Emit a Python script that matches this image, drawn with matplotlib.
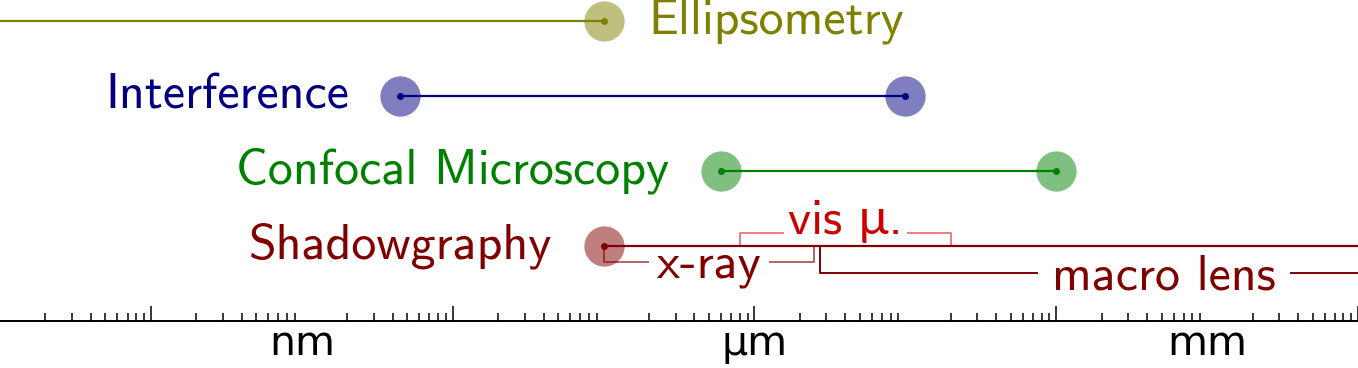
import matplotlib
matplotlib.use('Agg')
import matplotlib.pyplot as plt
import numpy as np
from matplotlib.ticker import LogLocator, NullFormatter

# Messverfahren und ihre Messbereiche (in m)
names = ['Ellipsometry', 'Interference', 'Confocal Microscopy', 'Shadowgraphy']
lower = [1e-12, 4.5e-9, 6e-7, 1e-7]
upper = [1e-7, 1e-5, 1e-4, 1e-1]
colors = ['#808000', '#000080', '#008000', '#800000']

# Teilbereiche der Shadowgraphy
sub_names = ['x-ray', 'vis μ.', 'macro lens']
sub_lower = [1e-7, 8e-7, 2.7e-6]
sub_upper = [2.5e-6, 2e-5, 1e-1]

# Achsenbeschriftung
unit_pos = [1e-9, 1e-6, 1e-3]
unit_labels = ['nm', 'μm', 'mm']

font = ['cmss10', 'Lato', 'DejaVu Sans']
fs = 36
rows = [4, 3, 2, 1]

fig = plt.figure(figsize=(13.58, 3.68), dpi=100)
ax = fig.add_axes([0, 47 / 368, 1, 321 / 368])
ax.set_xscale('log')
ax.set_xlim(1e-11, 1e-2)
ax.set_ylim(0, 321 / 75)
for s in ['top', 'left', 'right']:
    ax.spines[s].set_visible(False)
ax.spines['bottom'].set_linewidth(1.4)
ax.yaxis.set_visible(False)

ax.xaxis.set_major_locator(LogLocator(base=100))
ax.xaxis.set_minor_locator(LogLocator(base=10, subs=np.arange(2, 10), numticks=60))
ax.xaxis.set_major_formatter(NullFormatter())
ax.xaxis.set_minor_formatter(NullFormatter())
ax.tick_params(axis='x', which='major', direction='in', length=10.5, width=1.1)
ax.tick_params(axis='x', which='minor', direction='in', length=5.5, width=1.1)

sec = ax.secondary_xaxis('bottom')
sec.set_xticks(unit_pos, unit_labels)
sec.tick_params(length=0, pad=2, labelsize=29.5)
sec.spines['bottom'].set_visible(False)

# Hauptbereiche
for name, lo, hi, c, r in zip(names, lower, upper, colors, rows):
    ax.plot([lo, hi], [r, r], color=c, lw=1.6, zorder=6)
    ax.plot([lo, hi], [r, r], 'o', ms=29, color=c, alpha=0.5, mec='none', zorder=5)
    ax.plot([lo, hi], [r, r], 'o', ms=5, color=c, mec='none', zorder=7)
    if name == 'Ellipsometry':
        ax.annotate(name, (hi, r), xytext=(32, 0), textcoords='offset points',
                    ha='left', va='center', color=c, fontsize=fs, family=font)
    else:
        ax.annotate(name, (lo, r), xytext=(-37, 0), textcoords='offset points',
                    ha='right', va='center', color=c, fontsize=fs, family=font)

# Klammern unter/ueber der Shadowgraphy-Linie
r = rows[3]
levels = [r - 16 / 75, r + 13.5 / 75, r - 27 / 75]
text_y = [r - 32 / 75, r + 12 / 75, r - 43 / 75]
line_colors = [('#800000', 0.6), ('#cc0000', 0.5), ('#800000', 1.0)]
text_colors = ['#800000', '#cc0000', '#800000']
gaps = [9, 5, 15]

texts = []
for name, lo, hi, ty, tc in zip(sub_names, sub_lower, sub_upper, text_y, text_colors):
    t = ax.text(np.sqrt(lo * hi), ty, name, ha='center', va='baseline',
                color=tc, fontsize=fs, family=font, zorder=4)
    texts.append(t)

fig.canvas.draw()
inv = ax.transData.inverted()
for t, lo, hi, lev, (lc, la), g in zip(texts, sub_lower, sub_upper, levels, line_colors, gaps):
    bb = t.get_window_extent()
    xa = inv.transform((bb.x0 - g, 0))[0]
    xb = inv.transform((bb.x1 + g, 0))[0]
    ax.plot([lo, lo, xa], [r, lev, lev], color=lc, alpha=la, lw=1.4, zorder=3)
    ax.plot([xb, hi, hi], [lev, lev, r], color=lc, alpha=la, lw=1.4, zorder=3)

fig.savefig('out.png', dpi=100)
